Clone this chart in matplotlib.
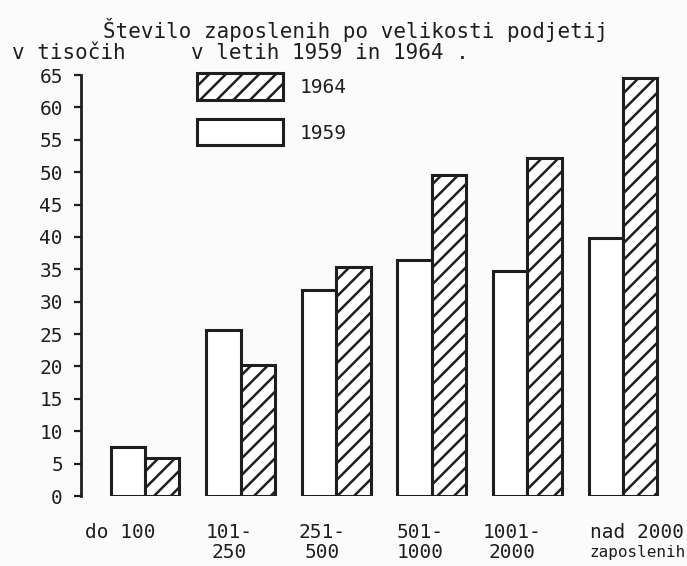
import matplotlib.pyplot as plt
import numpy as np

# data (thousands of employees)
categories = ["do 100", "101-\n250", "251-\n500", "501-\n1000", "1001-\n2000", "nad 2000"]
unit_label = "zaposlenih"
emp_1959 = [7.5, 25.6, 31.8, 36.5, 34.8, 39.9]
emp_1964 = [5.9, 20.2, 35.3, 49.5, 52.2, 64.6]
yticks = list(range(0, 70, 5))

# hand lettered labels sit a bit left of the group centre
label_shift = [-0.63, -0.37, -0.39, -0.37, -0.47, -0.35]

plt.rcParams['font.family'] = 'DejaVu Sans Mono'
plt.rcParams['hatch.linewidth'] = 1.8
ink = '#1e1e1e'
paper = '#fbfbfb'

W, H = 687, 566
fig = plt.figure(figsize=(W / 100, H / 100), dpi=100, facecolor=paper)
# axis line at x=81px, y=0 at 496px, y=65 at 75px
ax = fig.add_axes([81 / W, (H - 496) / H, (W - 81) / W, (496 - 75) / H])
ax.set_facecolor(paper)

x = np.arange(len(categories))
w = 0.36
b59 = ax.bar(x - w / 2, emp_1959, w, color='white', edgecolor=ink, linewidth=2.2, label='1959')
b64 = ax.bar(x + w / 2, emp_1964, w, color='white', edgecolor=ink, linewidth=2.2,
             hatch='//', label='1964')

ax.set_ylim(0, 65)
ax.set_xlim(-0.67, 5.67)
ax.set_yticks(yticks)
ax.set_yticklabels([str(t) for t in yticks], fontsize=14, color=ink)
ax.set_xticks([])
ax.tick_params(axis='y', direction='out', length=5, width=1.6, color=ink, pad=8)
for s in ['top', 'right', 'bottom']:
    ax.spines[s].set_visible(False)
ax.spines['left'].set_linewidth(2)
ax.spines['left'].set_color(ink)

# category labels under the groups
xt = ax.get_xaxis_transform()
for xi, dx, lab in zip(x, label_shift, categories):
    ax.text(xi + dx, -0.064, lab, transform=xt, fontsize=14, color=ink,
            ha='left', va='top', multialignment='center', linespacing=1.05)
ax.text(x[-1] + label_shift[-1], -0.117, unit_label, transform=xt, fontsize=11.5,
        color=ink, ha='left', va='top')

leg = ax.legend(handles=[b64, b59], loc='upper left', frameon=False,
                bbox_to_anchor=(197 / W, 1 - 73 / H), bbox_transform=fig.transFigure,
                borderpad=0, borderaxespad=0, fontsize=14,
                handlelength=4.4, handleheight=1.72, handletextpad=0.9, labelspacing=1.0)
for t in leg.get_texts():
    t.set_color(ink)

fig.text(103 / W, 1 - 30 / H, "Število zaposlenih po velikosti podjetij",
         fontsize=15, color=ink, va='center', ha='left')
fig.text(12 / W, 1 - 53 / H, "v tisočih", fontsize=15, color=ink, va='center', ha='left')
fig.text(191 / W, 1 - 53 / H, "v letih 1959 in 1964 .", fontsize=15, color=ink,
         va='center', ha='left')

fig.savefig('out.png', dpi=100, facecolor=paper)
